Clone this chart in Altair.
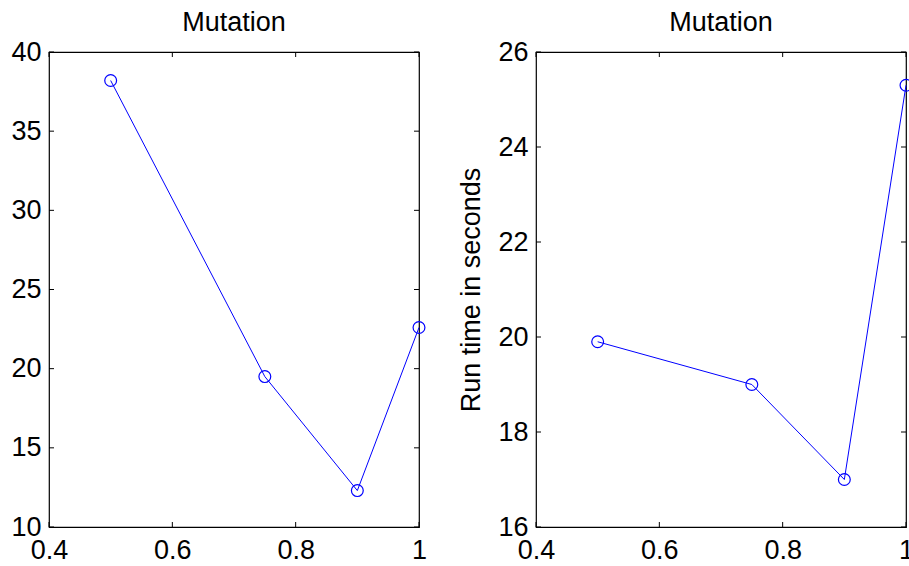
import altair as alt
import pandas as pd

# ---- data ----
mutation_rate = [0.5, 0.75, 0.9, 1.0]
left_values = [38.2, 19.5, 12.3, 22.6]
right_values = [19.9, 19.0, 17.0, 25.3]
x_ticks = [0.4, 0.6, 0.8, 1.0]
left_y_ticks = [10, 15, 20, 25, 30, 35, 40]
right_y_ticks = [16, 18, 20, 22, 24, 26]
panel_title = "Mutation"
right_y_title = "Run time in seconds"

W, H = 370, 475
FONT = "Liberation Sans"
FS = 27
BLUE = "#0000ff"
TICK = 5


def panel(values, y_ticks, y_title):
    df = pd.DataFrame({"x": mutation_rate, "y": values})
    xs = alt.Scale(domain=[x_ticks[0], x_ticks[-1]], nice=False, zero=False)
    ys = alt.Scale(domain=[y_ticks[0], y_ticks[-1]], nice=False, zero=False)
    xaxis = alt.Axis(values=x_ticks, format="~g", labelPadding=10, labelFlush=False)
    yaxis_kw = dict(values=y_ticks, labelPadding=8, labelFlush=False)
    if y_title:
        yaxis = alt.Axis(title=y_title, titlePadding=12, **yaxis_kw)
        ytitle = y_title
    else:
        yaxis = alt.Axis(**yaxis_kw)
        ytitle = None

    X = lambda f: alt.X(f, scale=xs, axis=xaxis, title=None)
    Y = lambda f: alt.Y(f, scale=ys, axis=yaxis, title=ytitle)

    base = alt.Chart(df)
    line = base.mark_line(color=BLUE, strokeWidth=1).encode(x=X("x:Q"), y=Y("y:Q"))
    pts = base.mark_point(shape="circle", filled=False, color=BLUE, size=140,
                          strokeWidth=1.2, opacity=1).encode(x=X("x:Q"), y=Y("y:Q"))
    xt = alt.Chart(pd.DataFrame({"t": x_ticks}))
    yt = alt.Chart(pd.DataFrame({"t": y_ticks}))
    bottom = xt.mark_rule(color="black", strokeWidth=1).encode(
        x=X("t:Q"), y=alt.value(H), y2=alt.value(H - TICK))
    top = xt.mark_rule(color="black", strokeWidth=1).encode(
        x=X("t:Q"), y=alt.value(0), y2=alt.value(TICK))
    left = yt.mark_rule(color="black", strokeWidth=1).encode(
        y=Y("t:Q"), x=alt.value(0), x2=alt.value(TICK))
    right = yt.mark_rule(color="black", strokeWidth=1).encode(
        y=Y("t:Q"), x=alt.value(W), x2=alt.value(W - TICK))

    return alt.layer(line, pts, bottom, top, left, right).properties(
        width=W, height=H,
        title=alt.TitleParams(panel_title, anchor="middle", baseline="alphabetic",
                              offset=-20, frame="group"),
    )


chart = alt.hconcat(
    panel(left_values, left_y_ticks, None),
    panel(right_values, right_y_ticks, right_y_title),
    spacing=117,
    bounds="flush",
).properties(
    padding={"left": 10, "top": 8, "right": -6, "bottom": 0},
    background="white",
).configure_view(
    stroke="black", strokeWidth=1.2
).configure_axis(
    labelFont=FONT, labelFontSize=FS, labelColor="black",
    titleFont=FONT, titleFontSize=FS, titleFontWeight="normal", titleColor="black",
    domain=False, ticks=False, grid=False,
).configure_title(
    font=FONT, fontSize=FS, fontWeight="normal", color="black",
)

chart.save("out.html", embed_options={"renderer": "svg", "actions": False})
